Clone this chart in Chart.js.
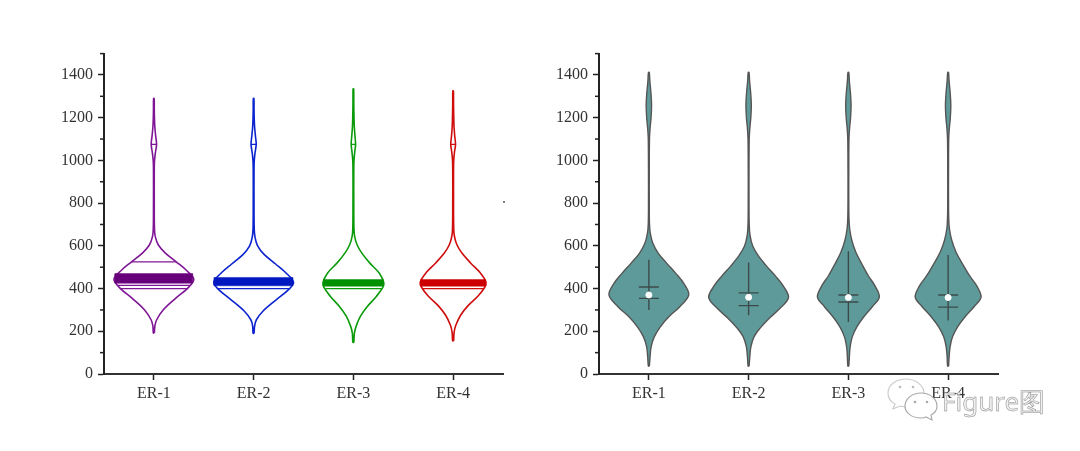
<!DOCTYPE html>
<html>
<head>
<meta charset="utf-8">
<script src="https://cdn.jsdelivr.net/npm/chart.js@4"></script>
<style>
    html, body { margin: 0; padding: 0; background: #fff; overflow: hidden; }
    canvas { position: absolute; top: 39px; }
    #leftChart { left: 40px; }
    #rightChart { left: 535px; }
    #mark { position: absolute; left: 942px; top: 383px; font: 26px "Noto Sans", sans-serif; color: #f0f0f0; -webkit-text-stroke: 0.5px #8a8a8a; white-space: nowrap; }
    #wechat { position: absolute; left: 886px; top: 376px; }
    #speck { position: absolute; left: 503px; top: 201px; width: 2px; height: 2px; background: #555; border-radius: 1px; }
</style>
</head>
<body>
<canvas id="leftChart" width="480" height="380"></canvas>
<canvas id="rightChart" width="480" height="380"></canvas>
<div id="speck"></div>
<svg id="wechat" width="56" height="46" viewBox="0 0 56 46">
    <path d="M20 3c-10 0-18 6-18 14 0 5 3 9 7 11l-2 5 7-3c2 0 4 1 6 1 10 0 18-7 18-14S30 3 20 3z" fill="#fff" stroke="#ccc" stroke-width="1.2"/>
    <path d="M35 17c-9 0-16 6-16 13s7 12 16 12c2 0 3 0 5-1l6 3-1-5c4-2 6-5 6-9 0-7-7-13-16-13z" fill="#fff" stroke="#aaa" stroke-width="1.2"/>
    <circle cx="14" cy="11" r="1.3" fill="#bbb"/><circle cx="27" cy="11" r="1.3" fill="#bbb"/>
    <circle cx="29" cy="26" r="1.3" fill="#aaa"/><circle cx="41" cy="26" r="1.3" fill="#aaa"/>
</svg>
<div id="mark">Figure图</div>
<script>
const categories = ['ER-1', 'ER-2', 'ER-3', 'ER-4'];
const yTicks = [0, 200, 400, 600, 800, 1000, 1200, 1400];

// left panel, violin outlines (value, half width in category units)
const lineValues1 = [192, 225, 254, 301, 355, 402, 444, 488, 523, 566, 604, 643, 680, 800, 950, 995, 1035, 1075, 1115, 1155, 1195, 1245, 1290];
const lineWidths1 = [.005, .01, .028, .095, .22, .34, .40, .32, .23, .115, .045, .014, .006, .004, .004, .006, .015, .027, .018, .01, .006, .004, .003];
const lineValues2 = [190, 225, 254, 295, 345, 395, 430, 475, 515, 560, 600, 640, 680, 800, 950, 995, 1035, 1075, 1115, 1155, 1195, 1245, 1290];
const lineWidths2 = [.005, .01, .028, .095, .22, .35, .40, .32, .22, .105, .04, .014, .006, .004, .004, .006, .014, .026, .018, .01, .006, .004, .003];
const lineValues3 = [148, 190, 223, 270, 316, 363, 405, 428, 472, 519, 566, 604, 643, 680, 800, 950, 1000, 1040, 1075, 1115, 1160, 1210, 1270, 1335];
const lineWidths3 = [.005, .01, .027, .07, .14, .23, .295, .305, .26, .165, .085, .038, .013, .006, .004, .004, .006, .014, .022, .016, .009, .006, .004, .003];
const lineValues4 = [155, 195, 228, 275, 320, 365, 405, 430, 475, 520, 565, 605, 645, 680, 800, 950, 1000, 1040, 1075, 1115, 1160, 1210, 1265, 1325];
const lineWidths4 = [.005, .01, .027, .075, .15, .25, .315, .33, .27, .175, .09, .038, .013, .006, .004, .004, .006, .014, .024, .016, .009, .006, .004, .003];

// left panel, stick values with their half widths and the dense band of sticks
const stickValues = [[525, 415, 400, 1075], [400, 1075], [400, 1075], [400, 1075]];
const stickWidths = [[.22, .37, .34, .026], [.37, .026], [.28, .022], [.31, .024]];
const bandLow = [425, 413, 411, 411];
const bandHigh = [470, 452, 442, 442];
const bandWidths = [.39, .395, .3, .325];

// right panel, violin outlines
const fillValues1 = [37, 81, 128, 175, 221, 268, 315, 370, 424, 471, 518, 565, 612, 659, 705, 800, 950, 1100, 1150, 1200, 1260, 1320, 1370, 1412];
const fillWidths1 = [.005, .012, .023, .055, .115, .20, .31, .40, .35, .27, .18, .095, .04, .014, .006, .004, .004, .006, .012, .022, .027, .02, .01, .004];
const fillValues2 = [37, 81, 128, 175, 215, 258, 305, 357, 410, 458, 505, 555, 600, 650, 700, 800, 950, 1100, 1150, 1200, 1260, 1320, 1370, 1412];
const fillWidths2 = [.005, .012, .023, .055, .115, .20, .31, .40, .35, .27, .18, .095, .04, .014, .006, .004, .004, .006, .012, .022, .027, .02, .01, .004];
const fillValues3 = [37, 81, 128, 175, 221, 268, 315, 360, 410, 460, 515, 570, 625, 680, 730, 800, 950, 1100, 1150, 1200, 1260, 1320, 1370, 1412];
const fillWidths3 = [.005, .01, .018, .04, .085, .155, .24, .31, .27, .20, .135, .075, .035, .013, .006, .004, .004, .006, .012, .022, .027, .02, .01, .004];
const fillValues4 = [37, 81, 128, 175, 221, 268, 315, 360, 410, 460, 515, 570, 625, 680, 730, 800, 950, 1100, 1150, 1200, 1260, 1320, 1370, 1412];
const fillWidths4 = [.005, .01, .02, .045, .095, .17, .26, .33, .29, .215, .145, .08, .037, .013, .006, .004, .004, .006, .012, .022, .027, .02, .01, .004];

// right panel, box statistics
const whiskerLow = [300, 275, 243, 250];
const whiskerHigh = [535, 522, 575, 557];
const quartileLow = [354, 320, 337, 313];
const quartileHigh = [407, 380, 370, 370];
const medians = [370, 359, 358, 358];
const quartileWidth = 0.1;

const lineColors = ['#7f1696', '#0c24cf', '#0a9a0a', '#cf0d0d'];
const bandColors = ['#68007c', '#0018c0', '#009000', '#cc0000'];
const tealFill = '#5f9a9a';
const edgeColor = '#555';
const innerColor = '#3c4a4a';

function outline(center, values, widths) {
    const right = values.map((v, i) => ({ x: center + widths[i], y: v }));
    const left = values.map((v, i) => ({ x: center - widths[i], y: v })).reverse();
    return right.concat(left, [right[0]]);
}

function segment(x0, y0, x1, y1, color, width, order) {
    return {
        data: [{ x: x0, y: y0 }, { x: x1, y: y1 }],
        borderColor: color, borderWidth: width, pointRadius: 0, showLine: true, order: order
    };
}

const leftDatasets = [];
[[lineValues1, lineWidths1], [lineValues2, lineWidths2], [lineValues3, lineWidths3], [lineValues4, lineWidths4]].forEach(function (v, i) {
    leftDatasets.push({
        data: outline(i, v[0], v[1]),
        borderColor: lineColors[i], borderWidth: 1.6, pointRadius: 0, showLine: true, tension: 0.35, order: 3
    });
    stickValues[i].forEach(function (value, k) {
        const w = stickWidths[i][k];
        leftDatasets.push(segment(i - w, value, i + w, value, lineColors[i], 1.3, 2));
    });
    const bw = bandWidths[i];
    leftDatasets.push({
        data: [{ x: i - bw, y: bandLow[i] }, { x: i + bw, y: bandLow[i] }, { x: i + bw, y: bandHigh[i] }, { x: i - bw, y: bandHigh[i] }, { x: i - bw, y: bandLow[i] }],
        borderColor: bandColors[i], backgroundColor: bandColors[i], borderWidth: 0.5,
        fill: 'shape', pointRadius: 0, showLine: true, order: 1
    });
});

const rightDatasets = [];
[[fillValues1, fillWidths1], [fillValues2, fillWidths2], [fillValues3, fillWidths3], [fillValues4, fillWidths4]].forEach(function (v, i) {
    rightDatasets.push({
        data: outline(i, v[0], v[1]),
        borderColor: edgeColor, backgroundColor: tealFill, borderWidth: 1.4,
        fill: 'shape', pointRadius: 0, showLine: true, tension: 0.35, order: 4
    });
    rightDatasets.push(segment(i, whiskerLow[i], i, whiskerHigh[i], innerColor, 1.4, 3));
    rightDatasets.push(segment(i - quartileWidth, quartileLow[i], i + quartileWidth, quartileLow[i], innerColor, 1.4, 3));
    rightDatasets.push(segment(i - quartileWidth, quartileHigh[i], i + quartileWidth, quartileHigh[i], innerColor, 1.4, 3));
    rightDatasets.push({
        data: [{ x: i, y: medians[i] }],
        pointRadius: 3, pointBackgroundColor: '#fff', pointBorderColor: '#fff', showLine: false, order: 1
    });
});

// short minor ticks on the y axis, the library only has one tick length
const minorTicks = {
    id: 'minorTicks',
    afterDraw: function (chart) {
        const ctx = chart.ctx;
        const y = chart.scales.y;
        ctx.save();
        ctx.strokeStyle = '#222';
        ctx.lineWidth = 1.5;
        y.ticks.forEach(function (t) {
            if (yTicks.includes(t.value)) return;
            const py = y.getPixelForValue(t.value);
            ctx.beginPath();
            ctx.moveTo(y.right, py);
            ctx.lineTo(y.right - 4, py);
            ctx.stroke();
        });
        ctx.restore();
    }
};

function makeChart(id, datasets) {
    const tickFont = { family: '"Liberation Serif", serif', size: 16 };
    return new Chart(document.getElementById(id), {
        type: 'scatter',
        data: { datasets: datasets },
        plugins: [minorTicks],
        options: {
            responsive: false,
            animation: false,
            layout: { padding: { top: 11, right: 17, left: 0, bottom: 0 } },
            plugins: { legend: { display: false }, tooltip: { enabled: false } },
            scales: {
                x: {
                    type: 'linear', min: -0.5, max: 3.5,
                    afterBuildTicks: function (scale) {
                        scale.ticks = categories.map(function (c, i) { return { value: i }; });
                    },
                    afterFit: function (scale) { scale.height = 45; },
                    ticks: {
                        autoSkip: false, maxRotation: 0, color: '#333', font: tickFont, padding: 4,
                        callback: function (value) { return categories[value]; }
                    },
                    grid: { drawOnChartArea: false, tickLength: 6, tickColor: '#222', tickWidth: 1.5 },
                    border: { color: '#333', width: 2 }
                },
                y: {
                    min: 0, max: 1500,
                    afterFit: function (scale) { scale.width = 64; },
                    ticks: {
                        stepSize: 100, autoSkip: false, color: '#333', font: tickFont, padding: 5,
                        callback: function (value) { return yTicks.includes(value) ? String(value) : ''; }
                    },
                    grid: {
                        drawOnChartArea: false, tickLength: 6, tickWidth: 1.5,
                        tickColor: function (c) { return yTicks.includes(c.tick.value) ? '#222' : 'transparent'; }
                    },
                    border: { color: '#222', width: 2 }
                }
            }
        }
    });
}

makeChart('leftChart', leftDatasets);
makeChart('rightChart', rightDatasets);
</script>
</body>
</html>
